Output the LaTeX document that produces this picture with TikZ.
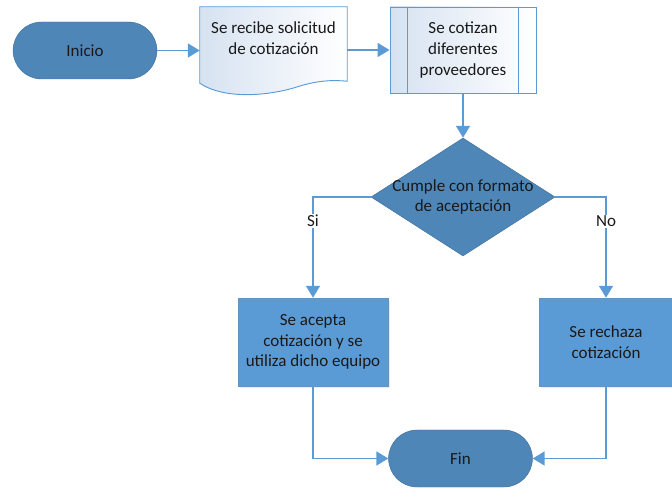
\documentclass[tikz,border=0pt]{standalone}
\usepackage{fontspec}
\setmainfont{Carlito}
\usetikzlibrary{shapes.geometric,shapes.misc,arrows.meta,calc,shadows,backgrounds}
\definecolor{azuloscuro}{HTML}{4E86B8}
\definecolor{bordeoscuro}{HTML}{41719C}
\definecolor{azulclaro}{HTML}{5B9BD5}
\definecolor{fondoclaro}{HTML}{D6E2F1}

\begin{document}
\begin{tikzpicture}[
  x=0.03cm, y=-0.03cm,
  every node/.style={font=\fontsize{14.5}{17.5}\selectfont, text=black!90, align=center},
  terminal/.style={rounded rectangle, draw=bordeoscuro, fill=azuloscuro, minimum width=4.55cm, minimum height=1.71cm},
  documento/.style={draw=azulclaro, thick, left color=fondoclaro, right color=white},
  proceso/.style={rectangle, draw=azulclaro, thick, left color=fondoclaro, right color=white, minimum width=4.38cm, minimum height=2.58cm},
  decision/.style={diamond, draw=bordeoscuro, fill=azuloscuro, aspect=1.56, minimum width=5.52cm, minimum height=3.54cm, inner sep=-3.5pt},
  caja/.style={rectangle, draw=azulclaro!80!gray, fill=azulclaro, minimum height=2.64cm,
    drop shadow={opacity=0.15, shadow xshift=1.5pt, shadow yshift=-1.5pt}},
  flecha/.style={draw=azulclaro, line width=1.4pt, -{Triangle[length=0.36cm, width=0.42cm]}},
  etiqueta/.style={fill=white, inner sep=1pt}
]
\useasboundingbox (0,0) rectangle (672,488);

% inicio y documento de solicitud
\node[terminal] (inicio) at (85,50.5) {Inicio};
\node[minimum width=4.41cm, minimum height=1.86cm] (solicitud) at (273.5,38) {Se recibe solicitud\\de cotización};
\begin{scope}[on background layer]
\path[documento] (solicitud.north west) -- (solicitud.north east)
  -- ($(solicitud.south east)+(0,12)$)
  .. controls (335,80) and (320,80) .. (300,86)
  .. controls (270,96) and (225,100) .. ($(solicitud.south west)+(0,14)$) -- cycle;
\end{scope}

% proceso predefinido
\node[proceso] (cotizar) at (463,50) {Se cotizan\\diferentes\\proveedores};
\draw[azulclaro, thick] ($(cotizar.north west)+(18,0)$) -- ($(cotizar.south west)+(18,0)$);
\draw[azulclaro, thick] ($(cotizar.north east)+(-18,0)$) -- ($(cotizar.south east)+(-18,0)$);

\node[decision] (cumple) at (463,197) {Cumple con formato\\de aceptación};

\node[caja, minimum width=4.5cm] (acepta) at (313,342) {Se acepta\\cotización y se\\utiliza dicho equipo};
\node[caja, minimum width=4.02cm] (rechaza) at (606,342) {Se rechaza\\cotización};

\node[terminal] (fin) at (460.5,458.5) {Fin};

% conectores
\draw[flecha] (inicio.east) -- (inicio.east -| solicitud.west);
\draw[flecha] (cotizar.west -| solicitud.east) -- (cotizar.west);
\draw[flecha] (cotizar.south) -- (cumple.north);
\draw[flecha] (cumple.west) -| node[etiqueta, pos=0.62] {Si} (acepta.north);
\draw[flecha] (cumple.east) -| node[etiqueta, pos=0.62] {No} (rechaza.north);
\draw[flecha] (acepta.south) |- (fin.west);
\draw[flecha] (rechaza.south) |- (fin.east);
\end{tikzpicture}
\end{document}
